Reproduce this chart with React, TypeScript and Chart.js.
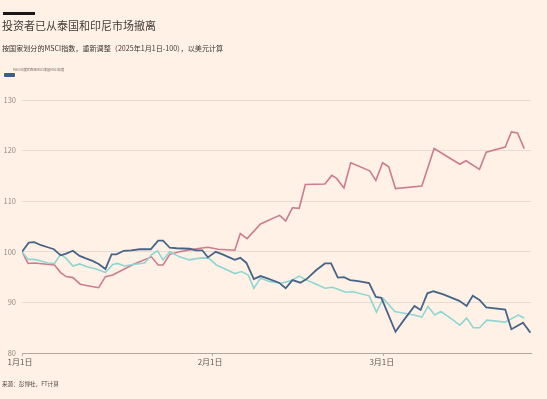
import React, { useEffect, useRef } from "react";
import { Chart, registerables } from "chart.js";
Chart.register(...registerables);

const FONT = '"Noto Sans CJK SC", "Noto Sans", sans-serif';

const titleText = "投资者已从泰国和印尼市场撤离";
const subtitleText = "按国家划分的MSCI指数，重新调整（2025年1月1日-100），以美元计算";
const legendText = "MSCI印度尼西亚MSCI泰国MSCI印度";
const sourceText = "来源：彭博社，FT计算";

const xTickDays = [0, 31, 59];
const xTickLabels = ["1月1日", "2月1日", "3月1日"];
const yTicks = [80, 90, 100, 110, 120, 130];

const indonesiaDays = [0, 1.1, 2.0, 3.1, 4.2, 5.2, 6.3, 7.1, 8.3, 9.4, 10.4, 11.5, 12.5, 13.6, 14.6, 15.4, 16.6, 17.8, 19.2, 21.0, 22.2, 23.0, 24.1, 25.2, 27.3, 28.4, 29.4, 30.3, 31.6, 32.7, 33.8, 34.7, 35.6, 36.6, 37.8, 38.9, 39.9, 41.9, 43.0, 44.1, 45.4, 46.4, 48.0, 49.4, 50.4, 51.5, 52.5, 53.5, 54.8, 56.6, 57.7, 58.6, 60.9, 62.2, 64.0, 65.0, 66.1, 67.1, 68.7, 71.3, 72.5, 73.5, 74.6, 75.7, 78.8, 79.8, 81.7, 82.9];
const indonesiaValues = [100, 101.8, 101.9, 101.3, 100.9, 100.5, 99.3, 99.6, 100.2, 99.2, 98.7, 98.2, 97.6, 96.6, 99.5, 99.5, 100.2, 100.3, 100.5, 100.5, 102.2, 102.2, 100.8, 100.7, 100.6, 100.3, 100.3, 98.9, 100.0, 99.5, 98.9, 98.4, 98.8, 97.8, 94.6, 95.2, 94.8, 93.9, 92.8, 94.4, 93.9, 94.6, 96.4, 97.7, 97.7, 94.9, 95.0, 94.4, 94.2, 93.8, 91.1, 90.9, 84.2, 86.4, 89.3, 88.5, 91.8, 92.2, 91.6, 90.3, 89.3, 91.3, 90.5, 89.0, 88.6, 84.7, 86.0, 84.0];

const thailandDays = [0, 1.0, 2.0, 3.1, 4.2, 5.3, 6.3, 7.2, 8.3, 9.4, 10.7, 12.1, 13.6, 14.8, 15.6, 16.7, 18.1, 20.0, 21.1, 22.1, 23.0, 24.1, 25.7, 27.3, 28.7, 29.6, 30.5, 31.7, 33.3, 34.7, 35.8, 36.9, 37.8, 38.9, 40.4, 42.3, 43.9, 45.2, 46.4, 48.0, 49.4, 50.6, 51.5, 52.8, 54.0, 56.6, 57.8, 58.9, 60.8, 62.1, 63.9, 65.2, 66.2, 67.3, 68.3, 70.1, 71.4, 72.5, 73.6, 74.6, 75.8, 78.8, 80.9, 81.9];
const thailandValues = [100, 98.5, 98.5, 98.2, 97.8, 97.7, 99.5, 98.7, 97.2, 97.6, 97.0, 96.6, 95.9, 97.5, 97.7, 97.2, 97.5, 97.8, 99.4, 100.2, 98.4, 100.0, 99.0, 98.4, 98.7, 98.8, 98.7, 97.4, 96.5, 95.7, 96.1, 95.4, 92.8, 94.8, 94.1, 93.8, 94.3, 95.2, 94.4, 93.6, 92.8, 93.0, 92.6, 92.0, 92.1, 91.3, 88.1, 90.8, 88.2, 87.9, 87.5, 87.1, 89.2, 87.5, 88.2, 86.7, 85.5, 86.9, 85.0, 85.0, 86.5, 86.1, 87.5, 86.9];

const indiaDays = [0, 1.0, 2.0, 5.3, 6.3, 7.2, 8.3, 9.5, 10.7, 12.5, 13.6, 14.8, 18.1, 21.1, 22.2, 23.0, 24.1, 25.7, 27.9, 30.3, 32.0, 34.7, 35.6, 36.7, 38.9, 39.6, 42.0, 43.0, 44.1, 45.2, 46.2, 49.4, 50.5, 51.3, 52.5, 53.6, 56.7, 57.7, 58.8, 59.8, 60.9, 65.2, 67.2, 71.4, 72.4, 74.6, 75.7, 78.8, 79.8, 80.8, 81.9];
const indiaValues = [100, 97.7, 97.8, 97.4, 95.9, 95.1, 94.9, 93.6, 93.3, 92.9, 95.1, 95.4, 97.5, 99.0, 97.4, 97.4, 99.5, 100.0, 100.5, 100.9, 100.5, 100.3, 103.6, 102.6, 105.5, 105.9, 107.2, 106.1, 108.7, 108.6, 113.3, 113.4, 115.1, 114.5, 112.6, 117.6, 116.0, 114.1, 117.6, 116.8, 112.5, 113.0, 120.4, 117.3, 118.0, 116.3, 119.7, 120.7, 123.7, 123.5, 120.4];

const toPoints = (xs: number[], ys: number[]) => xs.map((x, i) => ({ x, y: ys[i] }));

function ChartCanvas() {
  const ref = useRef<HTMLCanvasElement | null>(null);
  useEffect(() => {
    if (!ref.current) return;
    const chart = new Chart(ref.current, {
      type: "line",
      data: {
        datasets: [
          {
            label: "MSCI印度尼西亚",
            data: toPoints(indonesiaDays, indonesiaValues),
            borderColor: "#46648a",
            borderWidth: 1.8,
            pointRadius: 0,
            tension: 0,
          },
          {
            label: "MSCI泰国",
            data: toPoints(thailandDays, thailandValues),
            borderColor: "#8fd6d3",
            borderWidth: 1.6,
            pointRadius: 0,
            tension: 0,
          },
          {
            label: "MSCI印度",
            data: toPoints(indiaDays, indiaValues),
            borderColor: "#cc7c91",
            borderWidth: 1.6,
            pointRadius: 0,
            tension: 0,
          },
        ],
      },
      options: {
        responsive: false,
        animation: false,
        layout: { padding: { top: 100, right: 16, bottom: 28, left: 0 } },
        plugins: { legend: { display: false }, tooltip: { enabled: false } },
        scales: {
          x: {
            type: "linear",
            min: 0,
            max: 83,
            afterBuildTicks: (scale: any) => {
              scale.ticks = xTickDays.map((v) => ({ value: v }));
            },
            afterFit: (scale: any) => {
              scale.height = 18;
            },
            ticks: {
              autoSkip: false,
              maxRotation: 0,
              padding: 1,
              labelOffset: -2,
              color: "#5f5853",
              font: { family: FONT, size: 8 },
              callback: (v: any) => {
                const i = xTickDays.indexOf(Number(v));
                return i >= 0 ? xTickLabels[i] : "";
              },
            },
            grid: { drawOnChartArea: false, drawTicks: true, tickLength: 3, color: "#b5aca4" },
            border: { display: true, color: "#b0a79f", width: 1 },
          },
          y: {
            min: 80,
            max: 130,
            afterBuildTicks: (scale: any) => {
              scale.ticks = yTicks.map((v) => ({ value: v }));
            },
            afterFit: (scale: any) => {
              scale.width = 22;
            },
            ticks: {
              padding: 6,
              color: "#948c86",
              font: { family: FONT, size: 7.5 },
            },
            grid: { color: "#e8dbcf", drawTicks: false, lineWidth: 1 },
            border: { display: false },
          },
        },
      },
    });
    return () => chart.destroy();
  }, []);
  return (
    <canvas
      ref={ref}
      width={547}
      height={399}
      style={{ position: "absolute", left: 0, top: 0, width: 547, height: 399 }}
    />
  );
}

export default function App() {
  return (
    <div
      style={{
        position: "fixed",
        left: 0,
        top: 0,
        width: 547,
        height: 399,
        background: "#fff1e5",
        fontFamily: FONT,
        overflow: "hidden",
      }}
    >
      <ChartCanvas />
      <div style={{ position: "absolute", left: 3, top: 12, width: 32, height: 2.5, background: "#1a1817" }} />
      <div
        style={{
          position: "absolute",
          left: 2,
          top: 18,
          fontSize: 11,
          lineHeight: "15px",
          color: "#423d3a",
          whiteSpace: "nowrap",
        }}
      >
        {titleText}
      </div>
      <div
        style={{
          position: "absolute",
          left: 2,
          top: 43,
          fontSize: 7.1,
          lineHeight: "11px",
          color: "#3a3533",
          whiteSpace: "nowrap",
        }}
      >
        {subtitleText}
      </div>
      <div
        style={{
          position: "absolute",
          left: 13,
          top: 68,
          fontSize: 6.4,
          lineHeight: "8px",
          color: "#6f6863",
          whiteSpace: "nowrap",
          transform: "scale(0.5)",
          transformOrigin: "0 0",
        }}
      >
        {legendText}
      </div>
      <div
        style={{
          position: "absolute",
          left: 4,
          top: 73,
          width: 11,
          height: 4,
          borderRadius: 1,
          background: "#3a5f8f",
        }}
      />
      <div
        style={{
          position: "absolute",
          left: 2,
          top: 380,
          fontSize: 5.6,
          lineHeight: "9px",
          color: "#4f4845",
          whiteSpace: "nowrap",
        }}
      >
        {sourceText}
      </div>
    </div>
  );
}
